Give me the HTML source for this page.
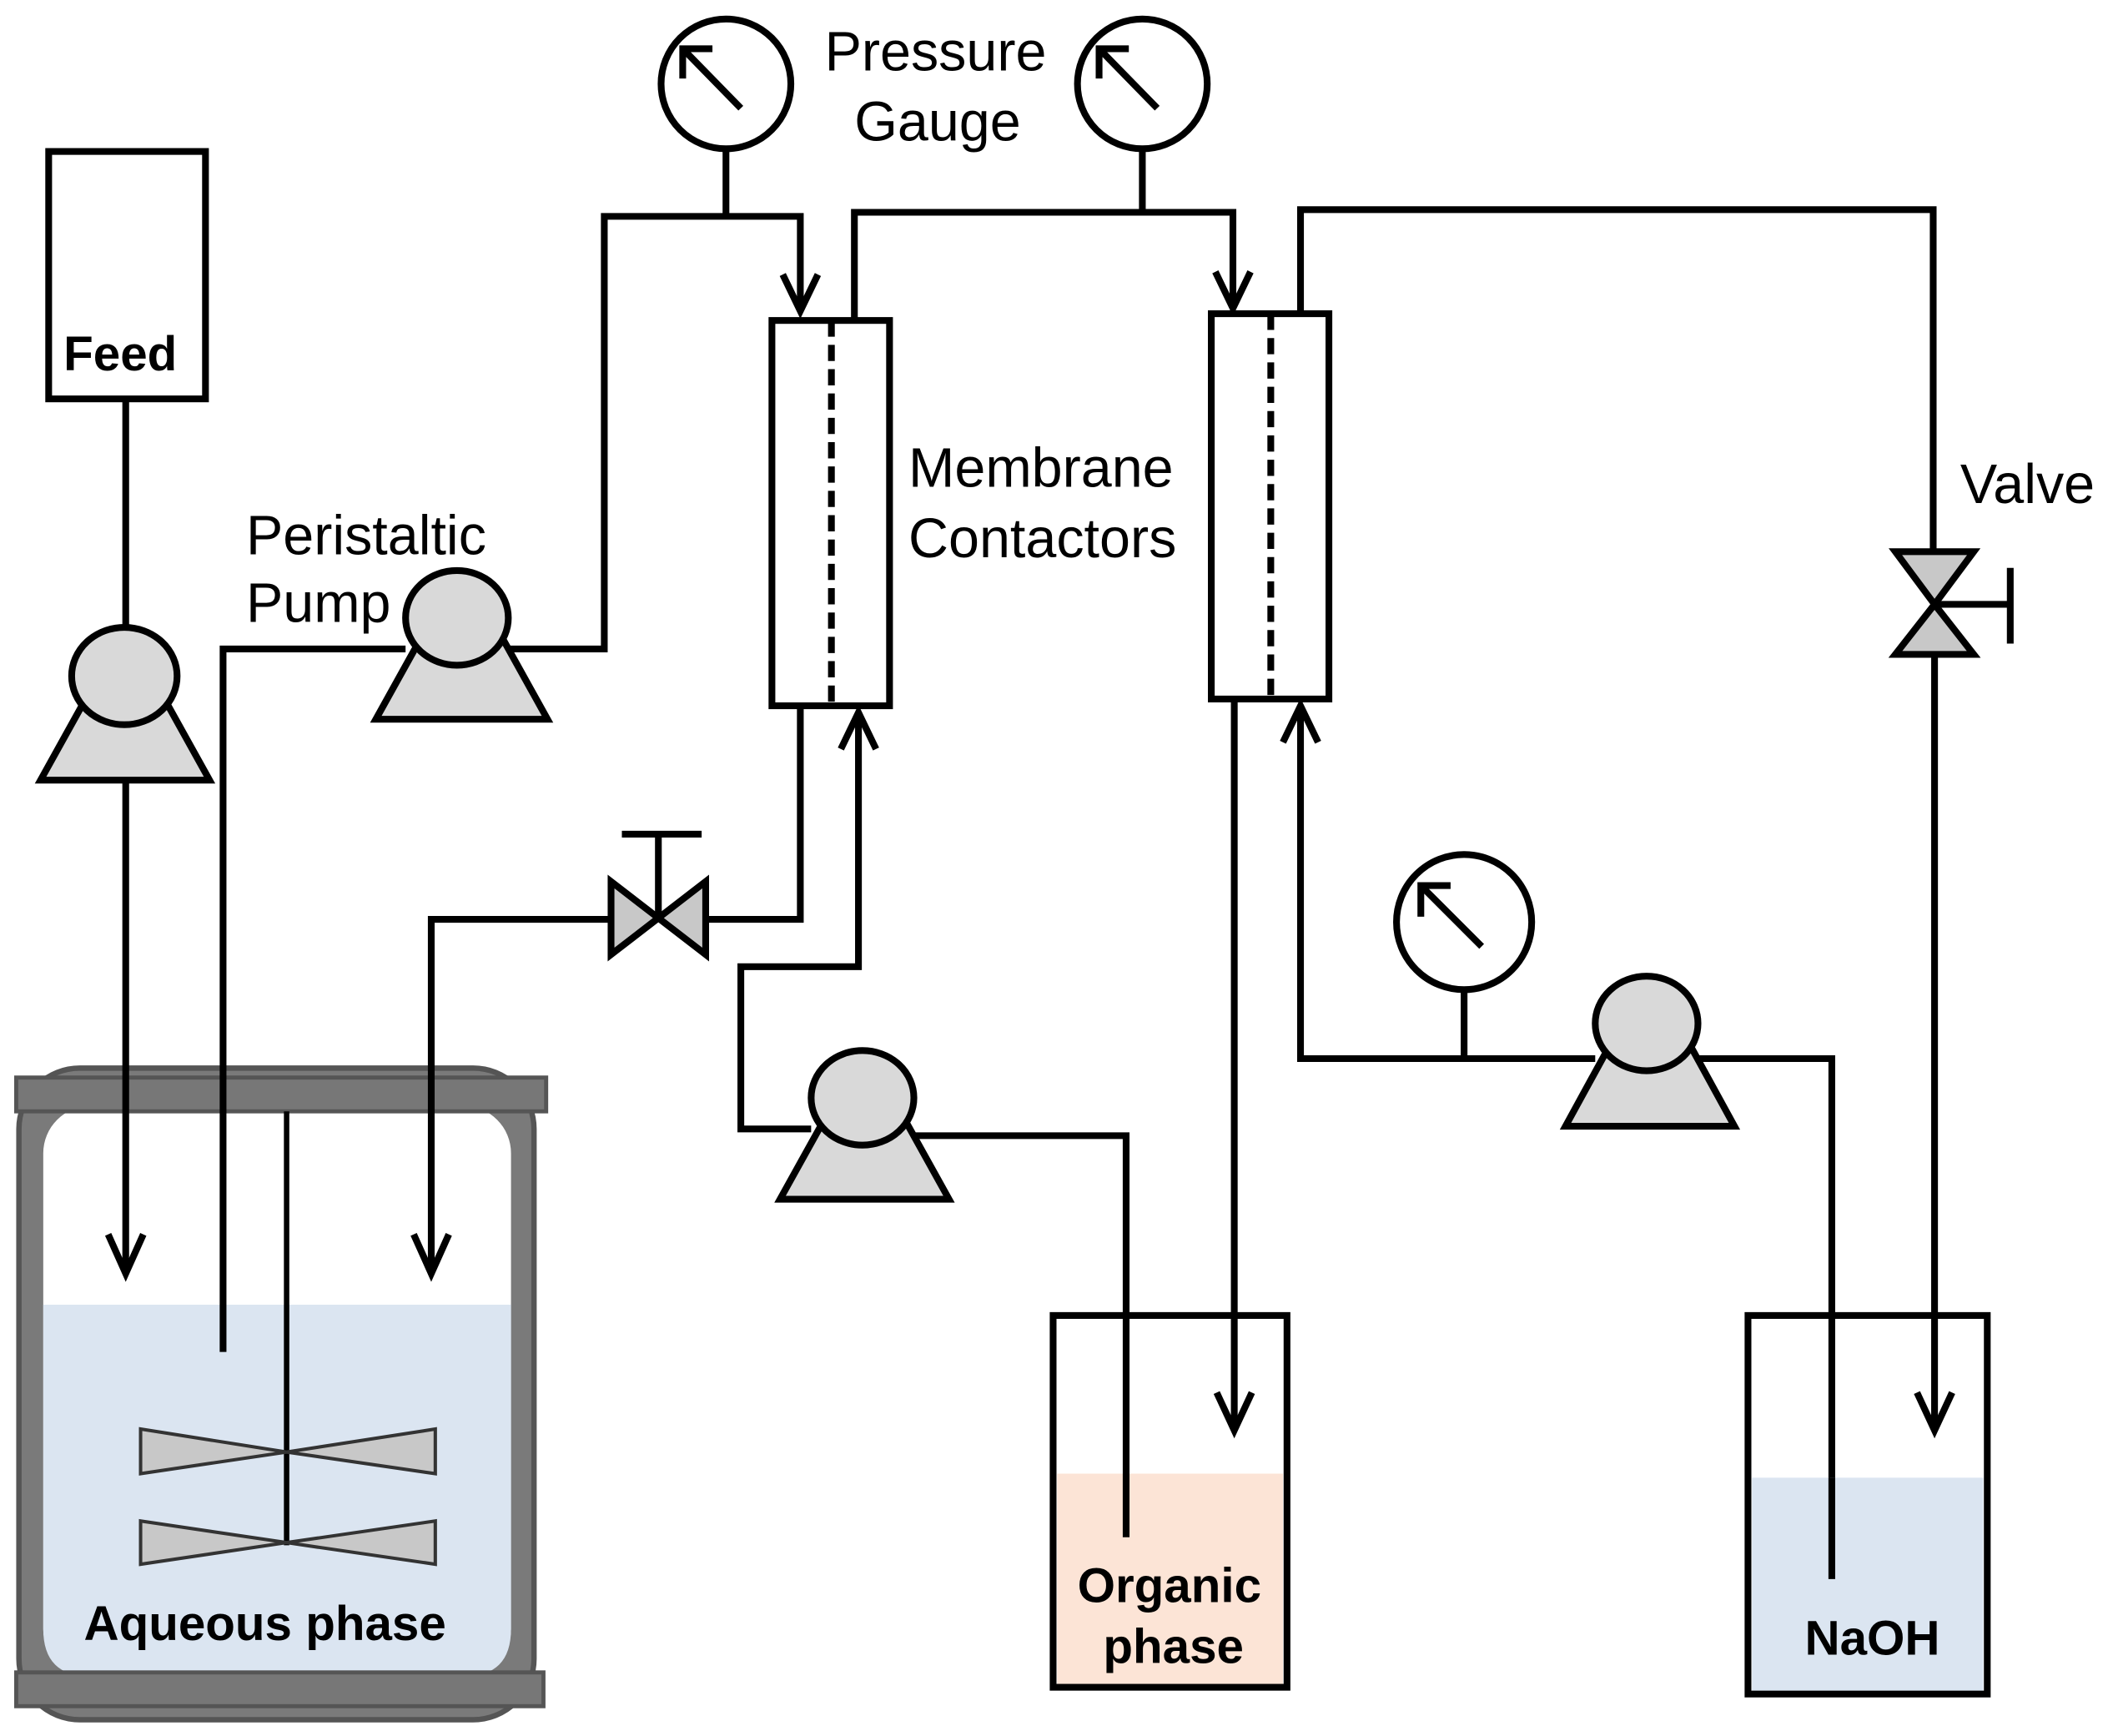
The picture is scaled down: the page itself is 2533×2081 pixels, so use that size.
<!DOCTYPE html>
<html><head><meta charset="utf-8"><style>
html,body{margin:0;padding:0;background:#fff;}
svg{display:block;}
text{font-family:"Liberation Sans",Arial,sans-serif;}
</style></head><body>
<svg width="2533" height="2081" viewBox="0 0 1563 1284" xmlns="http://www.w3.org/2000/svg">
<rect width="1563" height="1284" fill="#fff"/>
<g stroke="#000" stroke-width="5" fill="none" stroke-linejoin="miter">
<rect x="14" y="790" width="381" height="482" rx="45" fill="#7a7a7a" stroke="#555" stroke-width="4"/>
<rect x="32" y="818" width="346" height="422" rx="35" fill="#fff" stroke="none"/>
<path d="M32 965 H378 V1205 Q378 1240 343 1240 H67 Q32 1240 32 1205 Z" fill="#dbe5f1" stroke="none"/>
<rect x="12" y="797" width="392" height="25" fill="#777" stroke="#555" stroke-width="3"/>
<rect x="12" y="1237" width="390" height="25" fill="#777" stroke="#555" stroke-width="3"/>
<line x1="212" y1="822" x2="212" y2="1143" stroke-width="4"/>
<g fill="#c8c8c8" stroke="#333" stroke-width="2.5">
<polygon points="104,1057 212,1074 104,1090"/><polygon points="322,1057 212,1074 322,1090"/>
<polygon points="104,1125 212,1141 104,1157"/><polygon points="322,1125 212,1141 322,1157"/>
</g>
<rect x="36" y="112" width="116" height="183"/>
<line x1="93" y1="295" x2="93" y2="470"/>
<line x1="93" y1="577" x2="93" y2="940"/>
<polyline points="80,913 93,942 106,913"/>
<polyline points="165,1000 165,480 300,480"/>
<polyline points="375,480 447,480 447,160 592,160 592,228"/>
<polyline points="579,203 592,230 605,203"/>
<line x1="537" y1="110" x2="537" y2="160"/>
<rect x="571" y="237" width="87" height="285" fill="#fff"/>
<line x1="615" y1="237" x2="615" y2="522" stroke-dasharray="12,6"/>
<polyline points="632,237 632,157 912,157 912,226"/>
<polyline points="899,201 912,228 925,201"/>
<line x1="845" y1="110" x2="845" y2="157"/>
<rect x="896" y="232" width="87" height="285" fill="#fff"/>
<line x1="940" y1="232" x2="940" y2="517" stroke-dasharray="12,6"/>
<polyline points="962,232 962,155 1430,155 1430,408"/>
<line x1="1431" y1="483" x2="1431" y2="1056"/>
<polyline points="1418,1030 1431,1058 1444,1030"/>
<polygon points="1402,408 1460,408 1431,447" fill="#c8c8c8"/>
<polygon points="1402,484 1460,484 1431,447" fill="#c8c8c8"/>
<line x1="1431" y1="447" x2="1487" y2="447"/>
<line x1="1487" y1="420" x2="1487" y2="476"/>
<polyline points="592,522 592,680 522,680"/>
<polygon points="452,652 452,706 487,679" fill="#c8c8c8"/>
<polygon points="522,652 522,706 487,679" fill="#c8c8c8"/>
<line x1="487" y1="679" x2="487" y2="617"/>
<line x1="460" y1="617" x2="519" y2="617"/>
<polyline points="452,680 319,680 319,940"/>
<polyline points="306,913 319,942 332,913"/>
<polyline points="635,527 635,715 548,715 548,835 600,835"/>
<polyline points="622,554 635,527 648,554"/>
<polyline points="675,840 833,840 833,1137"/>
<path d="M782 1090 H949 V1246 H782 Z" fill="#fce4d6" stroke="none"/>
<rect x="779" y="973" width="173" height="275"/>
<line x1="833" y1="1090" x2="833" y2="1137"/>
<line x1="913" y1="517" x2="913" y2="1056"/>
<polyline points="900,1030 913,1058 926,1030"/>
<polyline points="962,522 962,783 1180,783"/>
<polyline points="949,549 962,522 975,549"/>
<line x1="1083" y1="732" x2="1083" y2="783"/>
<polyline points="1255,783 1355,783 1355,1168"/>
<path d="M1296 1093 H1467 V1251 H1296 Z" fill="#dbe5f1" stroke="none"/>
<rect x="1293" y="973" width="177" height="280"/>
<line x1="1355" y1="1093" x2="1355" y2="1168"/>
<g fill="#d9d9d9">
<polygon points="30,577 155,577 115,505 70,505"/><ellipse cx="92" cy="500" rx="39" ry="36"/>
<polygon points="278,532 405,532 365,460 318,460"/><ellipse cx="338" cy="457" rx="38" ry="35"/>
<polygon points="577,887 702,887 662,815 617,815"/><ellipse cx="638" cy="812" rx="38" ry="35"/>
<polygon points="1158,833 1283,833 1243,760 1198,760"/><ellipse cx="1218" cy="757" rx="38" ry="35"/>
</g>
<circle cx="537" cy="62" r="48" fill="#fff"/>
<polyline points="548,80 507,38"/><polyline points="505,58 505,36 527,36"/>
<circle cx="845" cy="62" r="48" fill="#fff"/>
<polyline points="856,80 815,38"/><polyline points="813,58 813,36 835,36"/>
<circle cx="1083" cy="682" r="50" fill="#fff"/>
<polyline points="1096,700 1053,657"/><polyline points="1051,678 1051,655 1073,655"/>
</g>
<g font-size="41" fill="#000">
<text x="182" y="410">Peristaltic</text>
<text x="182" y="460">Pump</text>
<text x="610" y="52">Pressure</text>
<text x="632" y="104">Gauge</text>
<text x="672" y="360">Membrane</text>
<text x="672" y="412">Contactors</text>
<text x="1450" y="372">Valve</text>
</g>
<g font-size="36" font-weight="bold" fill="#000" text-anchor="middle">
<text x="89" y="274">Feed</text>
<text x="196" y="1213">Aqueous phase</text>
<text x="865" y="1185">Organic</text>
<text x="868" y="1230">phase</text>
<text x="1385" y="1224">NaOH</text>
</g>
</svg>
</body></html>
